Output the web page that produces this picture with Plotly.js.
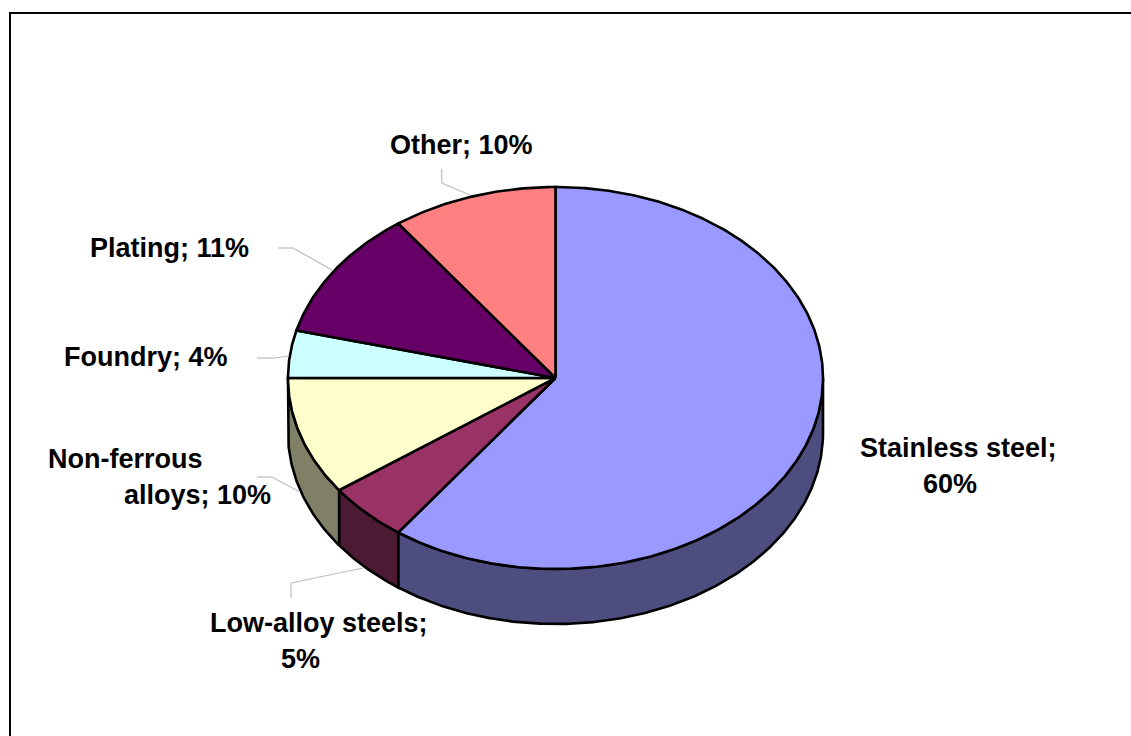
<!DOCTYPE html>
<html>
<head>
<meta charset="utf-8">
<script src="https://cdn.plot.ly/plotly-3.0.1.min.js"></script>
<style>html,body{margin:0;padding:0;background:#fff;overflow:hidden}#chart{width:1131px;height:736px}</style>
</head>
<body>
<div id="chart"></div>
<script>
// Data, clockwise from 12 o'clock
const categories = ["Stainless steel", "Low-alloy steels", "Non-ferrous alloys", "Foundry", "Plating", "Other"];
const shares = [60, 5, 10, 4, 11, 10];
const topColors = ["#9999FF", "#993366", "#FFFFCC", "#CCFFFF", "#660066", "#FF8080"];
const wallColors = ["#4D4D80", "#4D1A33", "#808066", null, null, null];

// Geometry of the drawing, in pixels of the 1131x736 page
const W = 1131, H = 736, CX = 555.5, CY = 378, RX = 267.5, RY = 191, DEPTH = 55;
const px = x => x / W, py = y => 1 - y / H;
const total = shares.reduce((a, b) => a + b, 0);

function arc(a0, a1, dy) {
  const n = Math.max(2, Math.ceil(Math.abs(a1 - a0) / 0.01));
  const xs = [], ys = [];
  for (let i = 0; i <= n; i++) {
    const a = a0 + (a1 - a0) * i / n;
    xs.push(Math.sin(a)); ys.push(Math.cos(a) - dy);
  }
  return [xs, ys];
}

const traces = [];
const wedges = [];
let cum = 0;
shares.forEach((s, i) => {
  const a0 = cum / total * 2 * Math.PI;
  cum += s;
  wedges.push([a0, cum / total * 2 * Math.PI, i]);
});
const depth = DEPTH / RY;
// side wall: only the part of the front half (PI/2 .. 3PI/2)
wedges.forEach(([a0, a1, i]) => {
  if (!wallColors[i]) return;
  const s = Math.max(a0, Math.PI / 2), e = Math.min(a1, 3 * Math.PI / 2);
  const [tx, ty] = arc(s, e, 0);
  const [bx, by] = arc(e, s, depth);
  traces.push({
    x: tx.concat(bx, [tx[0]]), y: ty.concat(by, [ty[0]]),
    mode: "lines", fill: "toself", fillcolor: wallColors[i],
    line: {color: "#000", width: 2.6}, hoverinfo: "skip", name: categories[i] + " wall"
  });
});
// top face
wedges.forEach(([a0, a1, i]) => {
  const [tx, ty] = arc(a0, a1, 0);
  traces.push({
    x: [0].concat(tx, [0]), y: [0].concat(ty, [0]),
    mode: "lines", fill: "toself", fillcolor: topColors[i],
    line: {color: "#000", width: 2.6}, hoverinfo: "skip", name: categories[i]
  });
});

const leaderPaths = [
  [[441.7,169],[441.7,183],[470,195]],
  [[278,248],[293,248],[332,270]],
  [[257,358],[275,358],[289,356]],
  [[257,477],[272,477],[300,492]],
  [[291,598],[291,583],[363,568]]
];
const shapes = [];
leaderPaths.forEach(p => {
  for (let i = 0; i < p.length - 1; i++) {
    shapes.push({type:"line", xref:"paper", yref:"paper",
      x0:px(p[i][0]), y0:py(p[i][1]), x1:px(p[i+1][0]), y1:py(p[i+1][1]),
      line:{color:"#BDBDBD", width:1.2}});
  }
});
// frame
shapes.push({type:"line", xref:"paper", yref:"paper", x0:px(10), y0:py(13), x1:1, y1:py(13), line:{color:"#000", width:2}});
shapes.push({type:"line", xref:"paper", yref:"paper", x0:px(10), y0:py(12), x1:px(10), y1:0, line:{color:"#000", width:2}});

const pct = i => shares[i] + "%";
const labels = [
  ["Stainless steel;", 958, 448],
  [pct(0), 950, 484],
  ["Low-alloy steels;", 319, 623],
  [pct(1), 300, 659],
  ["Non-ferrous", 125, 459],
  ["alloys; " + pct(2), 197, 495],
  ["Foundry; " + pct(3), 146, 357],
  ["Plating; " + pct(4), 169.5, 248],
  ["Other; " + pct(5), 461, 145]
];
const annotations = labels.map(([text, x, y]) => ({
  text, x: px(x), y: py(y), xref: "paper", yref: "paper",
  xanchor: "center", yanchor: "middle", showarrow: false, align: "center",
  font: {family: "Liberation Sans, Arial, sans-serif", size: 27, color: "#000", weight: 700}
}));

const layout = {
  width: W, height: H, margin: {l:0, r:0, t:0, b:0},
  paper_bgcolor: "#fff", plot_bgcolor: "#fff", showlegend: false,
  xaxis: {range: [-CX / RX, (W - CX) / RX], visible: false, fixedrange: true},
  yaxis: {range: [-(H - CY) / RY, CY / RY], visible: false, fixedrange: true},
  shapes, annotations
};
Plotly.newPlot("chart", traces, layout, {displayModeBar: false, staticPlot: true});
</script>
</body>
</html>
